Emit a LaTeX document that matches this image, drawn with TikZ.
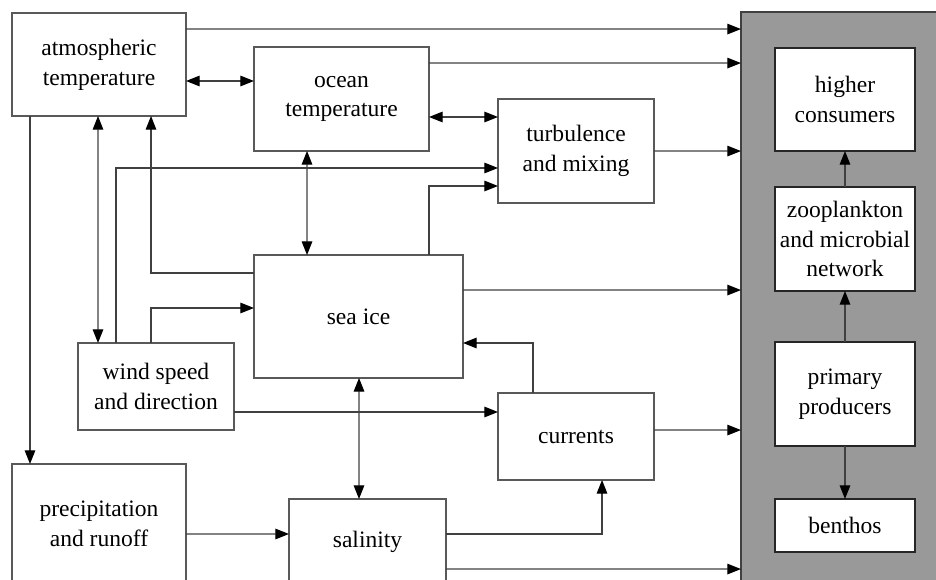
\documentclass[tikz,border=0pt]{standalone}
\usepackage{fontspec}
\setmainfont{Liberation Serif}
\usepackage{tikz}
\usetikzlibrary{calc}
\usetikzlibrary{arrows.meta}
\tikzset{mybox/.style={draw=black!65, line width=0.7pt, fill=white, align=center, inner sep=0pt, outer sep=0pt, font=\fontsize{13.4}{17}\selectfont}}
\tikzset{myboxIn/.style={mybox, draw=black!85, minimum width=2.8cm}}
\tikzset{myPanel/.style={draw=black!75, line width=0.7pt, fill=black!40, inner sep=0pt, outer sep=0pt, minimum width=4.4cm, minimum height=11.8cm}}
\tikzset{arr/.style={draw=black!75, line width=0.75pt, -{Triangle[length=7.8pt,width=6pt,color=black]}}}
\tikzset{darr/.style={draw=black!75, line width=0.75pt, {Triangle[length=7.8pt,width=6pt,color=black]}-{Triangle[length=7.8pt,width=6pt,color=black]}}}

\begin{document}
\begin{tikzpicture}[x=0.02cm, y=-0.02cm]
\clip (0,0) rectangle (936,580);

\node[myPanel] (pan) at (851, 307) {};

\node[mybox, minimum width=3.48cm, minimum height=2.06cm] (atm) at (99, 64.5) {atmospheric\\temperature};
\node[mybox, minimum width=3.5cm, minimum height=2.08cm] (ocean) at (341.5, 99) {ocean\\temperature};
\node[mybox, minimum width=3.12cm, minimum height=2.08cm] (turb) at (576, 151) {turbulence\\and mixing};
\node[mybox, minimum width=4.18cm, minimum height=2.46cm] (seaice) at (358.5, 316.5) {sea ice};
\node[mybox, minimum width=3.12cm, minimum height=1.74cm] (wind) at (156, 386.5) {wind speed\\and direction};
\node[mybox, minimum width=3.12cm, minimum height=1.74cm] (curr) at (576, 436.5) {currents};
\node[mybox, minimum width=3.48cm, minimum height=2.4cm] (precip) at (99, 524) {precipitation\\and runoff};
\node[mybox, minimum width=3.14cm, minimum height=1.72cm] (sal) at (367.5, 542) {salinity};

\node[myboxIn, minimum height=2.06cm] (high) at (845, 99.5) {higher\\consumers};
\node[myboxIn, minimum height=2.08cm] (zoo) at (845, 239) {zooplankton\\and microbial\\network};
\node[myboxIn, minimum height=2.08cm] (prim) at (845, 394) {primary\\producers};
\node[myboxIn, minimum height=1.06cm] (benth) at (845, 525.5) {benthos};

\draw[arr] ($(atm.north east)+(0,16)$) -- ($(pan.north west)+(0,17)$);
\draw[darr] ($(atm.north east)+(0,68)$) -- ($(ocean.north west)+(0,34)$);
\draw[arr] ($(ocean.north east)+(0,16)$) -- ($(pan.north west)+(0,51)$);
\draw[darr] ($(ocean.north east)+(0,70)$) -- ($(turb.north west)+(0,18)$);
\draw[arr] (turb.east) -- ($(pan.north west)+(0,139)$);
\draw[arr] ($(wind.north west)+(38,0)$) |- ($(turb.north west)+(0,69)$);
\draw[arr] ($(seaice.north west)+(175,0)$) |- ($(turb.north west)+(0,87)$);
\draw[darr] ($(ocean.south west)+(53,0)$) -- ($(seaice.north west)+(53,0)$);
\draw[arr] ($(atm.south west)+(18,0)$) -- ($(precip.north west)+(18,0)$);
\draw[darr] ($(atm.south west)+(86,0)$) -- ($(wind.north west)+(20,0)$);
\draw[arr] ($(seaice.north west)+(0,18)$) -| ($(atm.south west)+(139,0)$);
\draw[arr] ($(wind.north west)+(73,0)$) |- ($(seaice.north west)+(0,53)$);
\draw[arr] ($(seaice.north east)+(0,35)$) -- ($(pan.north west)+(0,278)$);
\draw[arr] ($(curr.north west)+(35,0)$) |- ($(seaice.north east)+(0,88)$);
\draw[arr] ($(wind.north east)+(0,69)$) -- ($(curr.north west)+(0,19)$);
\draw[darr] ($(seaice.south west)+(105,0)$) -- ($(sal.north west)+(70,0)$);
\draw[arr] ($(precip.north east)+(0,70)$) -- ($(sal.north west)+(0,35)$);
\draw[arr] ($(sal.north east)+(0,35)$) -| ($(curr.south west)+(104,0)$);
\draw[arr] ($(sal.north east)+(0,70)$) -- ($(pan.north west)+(0,557)$);
\draw[arr] ($(curr.north east)+(0,37)$) -- ($(pan.north west)+(0,418)$);

\draw[arr] (prim) -- (zoo);
\draw[arr] (zoo) -- (high);
\draw[arr] (prim) -- (benth);

\end{tikzpicture}
\end{document}
